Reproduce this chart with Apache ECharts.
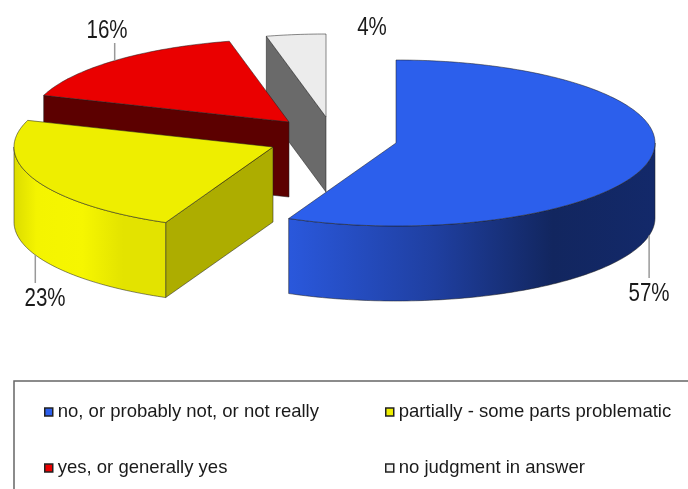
<!DOCTYPE html>
<html><head><meta charset="utf-8">
<style>html,body{margin:0;padding:0;background:#fff}#c{width:688px;height:489px}</style>
<script src="https://cdn.jsdelivr.net/npm/echarts@6/dist/echarts.min.js"></script>
</head><body><div id="c"></div>
<script>
// data
const categories = ['no, or probably not, or not really','partially - some parts problematic','yes, or generally yes','no judgment in answer'];
const values = [56.8,23.4,16.1,3.7];

// presentation
const colors = ['#2c5fec','#eeee00','#ea0000','#ececec'];
const radialColors = ['#1f3fa0','#adad00','#5c0000','#6a6a6a'];
const sideStops = [
  [[0,'#2a58dc'],[0.4,'#1f3fa0'],[0.72,'#12265f'],[1,'#13296a']],
  [[0,'#dcdc00'],[0.15,'#f4f400'],[0.45,'#f6f600'],[0.72,'#e3e300'],[1,'#e3e300']],
  [[0,'#5c0000'],[1,'#5c0000']],
  [[0,'#6a6a6a'],[1,'#6a6a6a']]
];
const centers = [[396,143],[273,147],[289,122],[326,117]];
const labelPos = [[649,294],[45,299],[107,31],[372,28]];
const leaderEnd = [278,283,43,null];
const RX = 259, RY = 83, DEPTH = 75;
const total = values.reduce((a,b)=>a+b,0);
const labelFont = '25px "Liberation Sans",sans-serif';

const rad = d => d*Math.PI/180;
function pt(c,t,dy){ return [c[0]+RX*Math.sin(rad(t)), c[1]-RY*Math.cos(rad(t))+(dy||0)]; }
function arc(c,a,b,dy){ const out=[]; const n=Math.max(2,Math.ceil(Math.abs(b-a)));
  for(let i=0;i<=n;i++) out.push(pt(c,a+(b-a)*i/n,dy)); return out; }

function renderSlice(params,api){
  const i = params.seriesIndex, v = api.value(0);
  const start = values.slice(0,i).reduce((a,b)=>a+b,0)/total*360;
  const end = start + v/total*360, mid=(start+end)/2;
  const c = centers[i], children=[];
  const edge = {stroke:'rgba(30,30,30,0.75)',lineWidth:0.7};
  function radial(t){
    const p=pt(c,t);
    children.push({type:'polygon',shape:{points:[c,p,[p[0],p[1]+DEPTH],[c[0],c[1]+DEPTH]]},
      style:Object.assign({fill:radialColors[i]},edge)});
  }
  if(Math.sin(rad(start))<-1e-6) radial(start);
  if(Math.sin(rad(end))>1e-6) radial(end);
  // outer wall: the part of the rim that faces the viewer
  const a=Math.max(start,90), b=Math.min(end,270);
  if(b>a){
    const topArc=arc(c,a,b,0), botArc=arc(c,a,b,DEPTH).reverse();
    const xs=topArc.map(p=>p[0]);
    const x0=Math.min.apply(null,xs), x1=Math.max.apply(null,xs);
    children.push({type:'polygon',shape:{points:topArc.concat(botArc)},
      style:Object.assign({fill:{type:'linear',x:x0,y:0,x2:x1,y2:0,global:true,
        colorStops:sideStops[i].map(s=>({offset:s[0],color:s[1]}))}},edge)});
  }
  // top face
  children.push({type:'polygon',shape:{points:[c].concat(arc(c,start,end,0))},
    style:Object.assign({fill:colors[i]},edge)});
  // leader and label
  if(leaderEnd[i]!==null){
    const front=Math.cos(rad(mid))<0;
    const p=pt(c,mid,front?DEPTH:0);
    children.push({type:'line',shape:{x1:p[0],y1:p[1],x2:p[0],y2:leaderEnd[i]},
      style:{stroke:'#999999',lineWidth:1.5}});
  }
  children.push({type:'text',x:labelPos[i][0],y:labelPos[i][1],scaleX:0.82,style:{x:0,y:0,text:Math.round(v)+'%',
    fill:'#1a1a1a',font:labelFont,align:'center',verticalAlign:'middle'}});
  return {type:'group',children};
}

const series=[0,1,2,3].map(i=>({
  type:'custom',name:categories[i],coordinateSystem:'none',
  renderItem:renderSlice,data:[[values[i]]],
  itemStyle:{color:colors[i]},z:10-i,silent:true,animation:false
}));

function legend(left,idx){ return {
  show:true,orient:'vertical',left,top:401,padding:0,itemWidth:8,itemHeight:8,itemGap:34,
  selectedMode:false,icon:'rect',
  itemStyle:{borderColor:'#222',borderWidth:1.5},
  textStyle:{fontFamily:'"Liberation Sans",sans-serif',fontSize:18.5,color:'#1a1a1a',lineHeight:22},
  data:idx.map(k=>({name:categories[k],itemStyle:{color:k===3?'#f2f2f2':colors[k],borderColor:'#222',borderWidth:1.5}}))
};}

const chart=echarts.init(document.getElementById('c'),null,{renderer:'canvas'});
chart.setOption({
  animation:false,
  backgroundColor:'#fff',
  legend:[legend(44,[0,2]),legend(385,[1,3])],
  graphic:[{type:'rect',shape:{x:14,y:381,width:720,height:160},style:{fill:'none',stroke:'#666',lineWidth:1.5},z:0,silent:true}],
  series
});
</script></body></html>
